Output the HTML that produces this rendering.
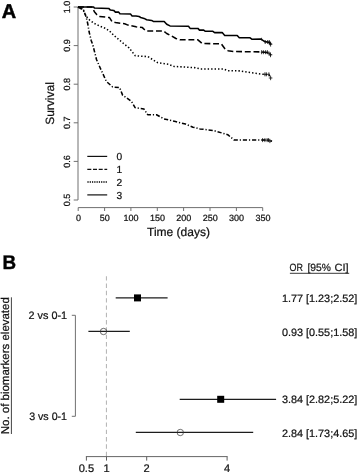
<!DOCTYPE html>
<html><head><meta charset="utf-8"><title>Figure</title>
<style>
html,body{margin:0;padding:0;background:#fff;}
body{width:358px;height:474px;overflow:hidden;font-family:"Liberation Sans",sans-serif;}
text{stroke:#111;stroke-width:0.22px;} svg{display:block;font-family:"Liberation Sans",sans-serif;text-rendering:geometricPrecision;-webkit-font-smoothing:antialiased;will-change:transform;}
</style></head><body>
<svg width="358" height="474" viewBox="0 0 358 474">
<rect width="358" height="474" fill="#fff"/>
<g stroke="#707070" stroke-width="1" fill="none">
<path d="M78 7.0V200.0"/>
<path d="M73.7 7.0H78"/>
<path d="M73.7 45.6H78"/>
<path d="M73.7 84.2H78"/>
<path d="M73.7 122.8H78"/>
<path d="M73.7 161.4H78"/>
<path d="M73.7 200.0H78"/>
<path d="M78.2 207.6H262.7"/>
<path d="M78.2 207.6V211"/>
<path d="M104.6 207.6V211"/>
<path d="M130.9 207.6V211"/>
<path d="M157.3 207.6V211"/>
<path d="M183.6 207.6V211"/>
<path d="M210.0 207.6V211"/>
<path d="M236.4 207.6V211"/>
<path d="M262.7 207.6V211"/>
</g>
<g font-size="9" fill="#111" text-anchor="middle">
<text transform="translate(69.6,7.0) rotate(-90)">1.0</text>
<text transform="translate(69.6,45.6) rotate(-90)">0.9</text>
<text transform="translate(69.6,84.2) rotate(-90)">0.8</text>
<text transform="translate(69.6,122.8) rotate(-90)">0.7</text>
<text transform="translate(69.6,161.4) rotate(-90)">0.6</text>
<text transform="translate(69.6,200.0) rotate(-90)">0.5</text>
<text x="78.4" y="221.4">0</text>
<text x="104.8" y="221.4">50</text>
<text x="131.1" y="221.4">100</text>
<text x="157.5" y="221.4">150</text>
<text x="183.8" y="221.4">200</text>
<text x="210.2" y="221.4">250</text>
<text x="236.6" y="221.4">300</text>
<text x="262.9" y="221.4">350</text>
</g>
<text transform="translate(54.3,103.5) rotate(-90)" font-size="12" fill="#111" text-anchor="middle">Survival</text>
<text x="178.5" y="236.2" font-size="12" fill="#111" text-anchor="middle">Time (days)</text>
<g stroke="#000" stroke-width="1.55" fill="none" stroke-linejoin="round">
<polyline points="78.00,7.00 93.60,7.00 94.40,8.00 108.70,8.40 110.40,10.10 113.70,10.40 115.40,12.10 118.70,12.10 119.90,13.70 130.50,14.10 132.10,15.90 136.00,15.90 139.00,16.40 140.70,17.50 144.10,18.40 146.60,19.70 151.60,20.40 153.30,21.40 164.20,21.40 166.70,24.20 170.00,25.90 188.50,26.30 190.10,28.40 197.90,28.40 199.50,30.10 203.70,30.10 205.40,31.30 212.90,31.30 214.60,32.60 222.20,32.60 224.70,35.40 237.20,35.40 239.30,37.80 250.10,37.80 251.80,39.20 261.00,39.10 264.70,41.60 269.50,42.60 271.30,44.60"/>
<polyline points="78.00,7.00 91.90,7.00 94.40,11.70 96.90,14.70 99.50,16.40 109.50,17.60 112.00,21.50 115.40,22.60 124.60,23.80 128.00,25.10 136.00,26.80 142.40,27.60 145.70,30.90 163.30,30.90 166.70,33.50 171.70,36.00 175.90,38.50 180.10,39.80 197.90,39.80 202.10,43.50 221.30,43.80 224.70,48.50 228.00,50.70 233.90,51.50 261.00,51.90 268.00,52.80 271.20,55.20" stroke-dasharray="5.9 2.8"/>
<polyline points="78.00,7.00 82.70,9.20 86.10,15.90 88.60,19.30 94.40,23.50 99.50,26.00 105.30,28.20 109.50,31.00 113.70,35.20 119.60,40.20 124.60,44.40 129.00,47.80 135.30,55.80 147.90,56.60 157.50,62.60 168.90,64.40 173.90,66.40 195.20,67.70 200.30,68.90 222.90,68.90 227.90,70.70 240.10,70.90 250.20,72.60 263.00,74.30 269.00,74.60 270.80,78.00" stroke-dasharray="1.4 2.05"/>
<polyline points="78.00,7.00 83.50,10.00 86.10,16.80 87.70,23.50 89.10,31.80 91.10,40.20 92.80,44.90 96.50,59.50 100.10,67.70 106.40,81.50 112.70,87.00 119.60,87.60 122.60,95.10 131.40,101.30 135.10,107.60 143.90,108.90 147.70,114.70 156.50,114.70 164.00,118.90 175.40,121.50 185.40,124.00 193.00,127.20 200.00,128.90 213.90,130.60 227.70,134.70 234.00,139.90 268.00,140.10 272.00,141.20" stroke-dasharray="4.2 1.9 1.2 1.9"/>
</g>
<g stroke="#0a0a0a" stroke-width="0.8" fill="none"><path d="M261.6 37.8V40.4"/><path d="M265.2 40.0V44.0M267.7 40.0V44.0M269.3 40.0V44.0M264.5 42.0H270.0M270.6 41.8V46.6M268.8 44.2H272.4M269.9 41.3V45.3M268.7 43.3H271.1"/><path d="M261.6 50.2V54.2M263.4 50.2V54.2M265.6 50.2V54.2M267.4 50.2V54.2M260.8 52.2H269.0M270.5 52.4V57.2M268.7 54.8H272.3M269.2 51.6V55.6M267.9 53.6H270.5"/><path d="M264.9 72.3V76.3M266.3 72.3V76.3M268.9 72.3V76.3M263.2 74.3H270.0M270.6 75.8V80.2M268.8 78.0H272.4"/><path d="M262.6 138.1V142.1M264.9 138.1V142.1M267.1 138.1V142.1M268.6 138.1V142.1M261.8 140.1H270.0M269.9 138.9V143.1M267.7 141.0H272.1"/></g>
<g stroke="#111" stroke-width="1.2" fill="none">
<path d="M87.3 156.4H107.2"/>
<path d="M87.3 169.3H107.2" stroke-dasharray="4 1.7"/>
<path d="M87.4 181.9H107.2" stroke-dasharray="1.25 1.03" stroke-width="1.5" stroke="#000"/>
<path d="M87.3 194.9H107.2"/>
</g>
<g font-size="10.2" fill="#111">
<text x="116.6" y="160.4">0</text>
<text x="116.6" y="173.3">1</text>
<text x="116.6" y="185.9">2</text>
<text x="116.6" y="198.9">3</text>
</g>
<text x="1.8" y="17.5" font-size="20" font-weight="bold" fill="#000" style="stroke:#000;stroke-width:0.5px" textLength="14.4" lengthAdjust="spacingAndGlyphs">A</text>
<text x="2.4" y="269.3" font-size="19.8" font-weight="bold" fill="#000" style="stroke:#000;stroke-width:0.4px" textLength="13.6" lengthAdjust="spacingAndGlyphs">B</text>
<path d="M106.45 276.2V457" stroke="#b8b8b8" stroke-width="1.1" stroke-dasharray="4.4 2.91" fill="none"/>
<g stroke="#707070" stroke-width="1" fill="none">
<path d="M85.9 456.6H227.6" stroke="#5e5e5e" stroke-width="0.95"/>
<path d="M86.4 456.6V460.6" stroke="#5e5e5e"/>
<path d="M106.5 456.6V460.6" stroke="#5e5e5e"/>
<path d="M146.7 456.6V460.6" stroke="#5e5e5e"/>
<path d="M227.1 456.6V460.6" stroke="#5e5e5e"/>
<path d="M71.8 315.3H75.4V416.3H71.8"/>
</g>
<g font-size="11.1" fill="#111" text-anchor="middle">
<text x="86.4" y="472.3">0.5</text>
<text x="106.5" y="472.3">1</text>
<text x="146.7" y="472.3">2</text>
<text x="227.1" y="472.3">4</text>
</g>
<path d="M115.7 297.9H167.6" stroke="#1c1c1c" stroke-width="1.25"/>
<rect x="134.0" y="294.4" width="7" height="7" fill="#000"/>
<text x="357.3" y="301.6" font-size="10.7" fill="#111" text-anchor="end" textLength="75.4" lengthAdjust="spacingAndGlyphs">1.77 [1.23;2.52]</text>
<path d="M88.4 331.4H129.8" stroke="#1c1c1c" stroke-width="1.25"/>
<circle cx="103.5" cy="331.5" r="3.2" fill="none" stroke="#333" stroke-width="0.7"/>
<text x="357.3" y="335.5" font-size="10.7" fill="#111" text-anchor="end" textLength="75.4" lengthAdjust="spacingAndGlyphs">0.93 [0.55;1.58]</text>
<path d="M179.7 399.25H276.1" stroke="#1c1c1c" stroke-width="1.25"/>
<rect x="217.2" y="395.8" width="7" height="7" fill="#000"/>
<text x="357.3" y="402.7" font-size="10.7" fill="#111" text-anchor="end" textLength="75.4" lengthAdjust="spacingAndGlyphs">3.84 [2.82;5.22]</text>
<path d="M135.8 432.4H253.2" stroke="#1c1c1c" stroke-width="1.25"/>
<circle cx="180.3" cy="432.5" r="3.2" fill="none" stroke="#333" stroke-width="0.7"/>
<text x="357.3" y="436.6" font-size="10.7" fill="#111" text-anchor="end" textLength="75.4" lengthAdjust="spacingAndGlyphs">2.84 [1.73;4.65]</text>
<g font-size="10.5" fill="#1a1a1a"><text x="289.5" y="271" textLength="13.4" lengthAdjust="spacingAndGlyphs">OR</text><text x="307.5" y="271" textLength="23.4" lengthAdjust="spacingAndGlyphs">[95%</text><text x="334.4" y="271" textLength="14.2" lengthAdjust="spacingAndGlyphs">CI]</text></g>
<path d="M289.9 273.3H349.2" stroke="#222" stroke-width="0.9"/>
<text x="67.1" y="319" font-size="10.8" fill="#111" text-anchor="end" textLength="38.6" lengthAdjust="spacingAndGlyphs">2 vs 0-1</text>
<text x="67" y="420.4" font-size="10.8" fill="#111" text-anchor="end" textLength="37.8" lengthAdjust="spacingAndGlyphs">3 vs 0-1</text>
<text transform="translate(9.2,365.7) rotate(-90)" font-size="11.4" fill="#111" text-anchor="middle" textLength="137" lengthAdjust="spacingAndGlyphs">No. of biomarkers elevated</text>
<path d="M11.4 297.3V434" stroke="#111" stroke-width="0.8"/>
</svg>
</body></html>
